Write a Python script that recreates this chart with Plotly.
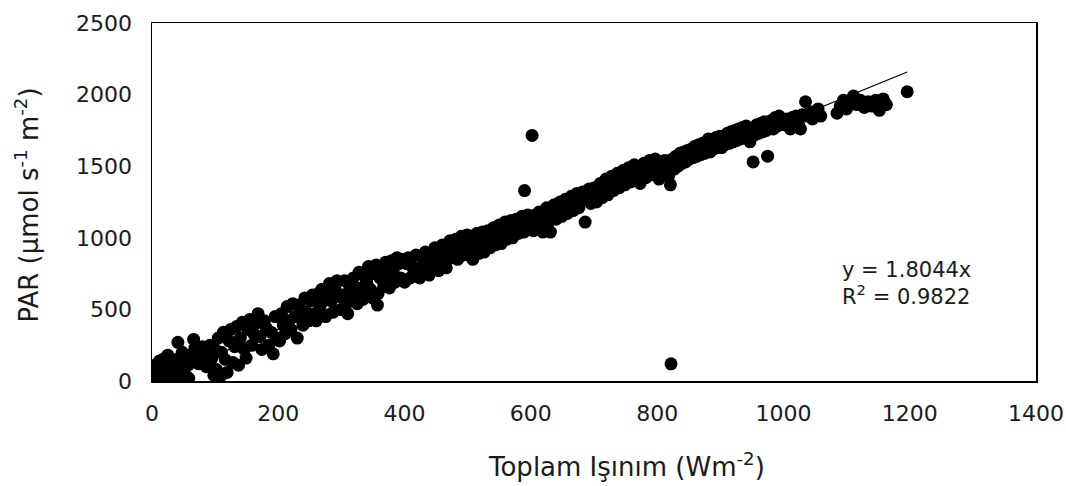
import plotly.graph_objects as go

# Total radiation (W m-2) and PAR, in segments
irr_0 = [2, 4, 5, 7, 8, 10, 12, 14, 15, 17, 19, 20, 22, 24, 25, 26, 28, 30, 32, 34, 36, 38, 41, 43, 45, 47, 48, 50, 52, 55, 57, 58, 60, 63, 66, 68, 71, 74, 77, 80, 83, 86, 89, 92, 95, 98, 100]
par_0 = [10, 40, 80, 20, 120, 60, 140, 30, 100, 150, 70, 10, 120, 40, 180, 90, 140, 20, 60, 110, 30, 150, 270, 80, 20, 130, 200, 60, 160, 30, 110, 20, 180, 140, 290, 230, 200, 120, 180, 240, 150, 100, 200, 250, 160, 40, 220]

irr_1 = [102, 105, 108, 110, 113, 116, 119, 122, 125, 128, 131, 134, 137, 140, 143, 146, 149, 152, 155, 158, 161, 164, 168, 171, 174, 178, 181, 185, 189, 192, 195, 198]
par_1 = [80, 300, 30, 200, 340, 150, 60, 280, 360, 130, 240, 380, 110, 300, 410, 220, 160, 360, 430, 250, 330, 400, 470, 310, 220, 420, 370, 250, 340, 190, 450, 300]

irr_2 = [202, 205, 208, 211, 214, 217, 220, 223, 226, 230, 233, 236, 239, 242, 245, 248, 251, 254, 257, 260, 263, 266, 269, 272, 275, 278, 281, 284, 287, 290, 293, 296, 299]
par_2 = [280, 470, 390, 330, 520, 420, 360, 540, 450, 300, 530, 470, 390, 580, 480, 420, 560, 600, 470, 420, 610, 520, 640, 560, 450, 620, 680, 560, 480, 640, 700, 590, 500]

irr_3 = [302, 305, 308, 310, 313, 316, 319, 322, 325, 328, 331, 334, 337, 340, 343, 346, 349, 352, 355, 357, 358, 361, 364, 367, 370, 373, 376, 379, 382, 385, 388, 391, 394, 397]
par_3 = [600, 700, 540, 470, 660, 560, 720, 610, 540, 760, 650, 570, 730, 690, 800, 640, 580, 750, 810, 530, 610, 720, 790, 660, 830, 720, 650, 840, 760, 690, 860, 820, 720, 850]

irr_4 = [400, 403, 406, 409, 412, 415, 418, 421, 424, 427, 430, 433, 436, 439, 442, 445, 448, 451, 454, 457, 460, 463, 466, 469, 472, 475, 478, 481, 484, 487, 490, 493, 496, 499]
par_4 = [690, 820, 860, 720, 800, 760, 880, 790, 720, 870, 810, 900, 780, 740, 880, 830, 930, 820, 770, 900, 950, 840, 790, 920, 980, 860, 900, 990, 850, 950, 1010, 880, 960, 1020]

irr_5 = [502, 505, 508, 511, 514, 517, 520, 523, 526, 529, 532, 535, 538, 541, 544, 547, 550, 553, 556, 559, 562, 565, 568, 571, 574, 577, 580, 583, 586, 589, 592, 595, 598]
par_5 = [880, 990, 850, 950, 1030, 890, 960, 1040, 900, 990, 1050, 930, 1000, 1070, 950, 1020, 1090, 960, 1040, 1110, 990, 1060, 1120, 1000, 1070, 1130, 1030, 1090, 1150, 1040, 1100, 1160, 1060]

irr_6 = [601, 604, 607, 610, 613, 616, 619, 622, 625, 628, 631, 634, 637, 640, 643, 646, 649, 652, 655, 658, 661, 664, 667, 670, 673, 676, 679, 682, 686, 689, 692, 695, 698]
par_6 = [1130, 1050, 1160, 1080, 1180, 1100, 1040, 1150, 1210, 1110, 1040, 1180, 1230, 1130, 1190, 1250, 1150, 1210, 1270, 1170, 1230, 1290, 1190, 1250, 1310, 1210, 1260, 1320, 1110, 1280, 1340, 1240, 1300]

irr_7 = [701, 704, 707, 710, 713, 716, 719, 722, 725, 728, 731, 734, 737, 740, 743, 746, 749, 752, 755, 758, 761, 764, 767, 770, 773, 776, 779, 782, 785, 788, 791, 794, 797]
par_7 = [1350, 1250, 1320, 1380, 1280, 1350, 1410, 1300, 1370, 1430, 1330, 1390, 1450, 1350, 1410, 1470, 1370, 1430, 1490, 1390, 1450, 1510, 1410, 1470, 1380, 1460, 1520, 1420, 1480, 1540, 1440, 1500, 1550]

irr_8 = [800, 803, 806, 809, 812, 815, 818, 821, 824, 827, 830, 833, 836, 839, 842, 845, 848, 851, 854, 857, 860, 863, 866, 869, 872, 875, 878, 881, 884, 887, 890, 893, 896, 899]
par_8 = [1480, 1410, 1520, 1450, 1540, 1470, 1430, 1370, 1550, 1480, 1570, 1500, 1590, 1520, 1600, 1530, 1610, 1550, 1620, 1560, 1640, 1570, 1650, 1580, 1660, 1590, 1670, 1690, 1600, 1680, 1620, 1700, 1630, 1710]

irr_9 = [902, 905, 908, 911, 914, 917, 920, 923, 926, 929, 932, 935, 938, 941, 944, 947, 950, 952, 955, 958, 961, 964, 967, 970, 973, 975, 978, 981, 984, 987, 990, 993, 996, 999]
par_9 = [1630, 1710, 1650, 1730, 1660, 1740, 1670, 1750, 1680, 1760, 1690, 1770, 1700, 1780, 1710, 1670, 1760, 1530, 1720, 1790, 1730, 1800, 1740, 1810, 1750, 1570, 1780, 1820, 1760, 1840, 1780, 1850, 1790, 1830]

irr_10 = [1002, 1005, 1008, 1011, 1014, 1017, 1020, 1024, 1027, 1030, 1035, 1038, 1042, 1046, 1050, 1055, 1059, 1085, 1090, 1095, 1100, 1105, 1111, 1116, 1122, 1128, 1134, 1140, 1146, 1152, 1158, 1163, 1196]
par_10 = [1790, 1830, 1800, 1760, 1840, 1810, 1850, 1790, 1760, 1860, 1950, 1850, 1880, 1830, 1870, 1900, 1850, 1870, 1920, 1960, 1900, 1940, 1990, 1930, 1960, 1910, 1950, 1920, 1960, 1890, 1970, 1930, 2020]

irr_out = [590, 602, 822]
par_out = [1330, 1715, 120]

slope = 1.8044
r2 = 0.9822

x_ticks = [0, 200, 400, 600, 800, 1000, 1200, 1400]
y_ticks = [0, 500, 1000, 1500, 2000, 2500]

x_title = "Toplam Işınım (Wm<sup>-2</sup>)"
y_title = "PAR (µmol s<sup>-1</sup> m<sup>-2</sup>)"

irr = (irr_0 + irr_1 + irr_2 + irr_3 + irr_4 + irr_5 + irr_6 + irr_7 + irr_8
       + irr_9 + irr_10 + irr_out)
par = (par_0 + par_1 + par_2 + par_3 + par_4 + par_5 + par_6 + par_7 + par_8
       + par_9 + par_10 + par_out)

font_family = "DejaVu Sans, Verdana, sans-serif"
text_color = "#1a1a1a"

fig = go.Figure()
fig.add_trace(go.Scatter(
    x=irr, y=par, mode="markers",
    marker=dict(color="black", size=13, line=dict(width=0)),
    showlegend=False, hoverinfo="skip"))

line_x = [0, max(irr)]
line_y = [slope * v for v in line_x]
fig.add_trace(go.Scatter(
    x=line_x, y=line_y, mode="lines",
    line=dict(color="black", width=1.2),
    showlegend=False, hoverinfo="skip"))

fig.add_annotation(
    x=1090, y=680, xref="x", yref="y",
    text=f"y = {slope:.4f}x<br>R<sup>2</sup> = {r2:.4f}",
    showarrow=False, xanchor="left", yanchor="middle", align="left",
    font=dict(family=font_family, size=21, color=text_color))

# axis titles as annotations to match their offset placement
fig.add_annotation(
    x=0.537, y=0, xref="paper", yref="paper", yshift=-84,
    text=x_title, showarrow=False, xanchor="center", yanchor="middle",
    font=dict(family=font_family, size=26, color=text_color))
fig.add_annotation(
    x=0, y=0.49, xref="paper", yref="paper", xshift=-125,
    text=y_title, textangle=-90, showarrow=False,
    xanchor="center", yanchor="middle",
    font=dict(family=font_family, size=26, color=text_color))

fig.update_layout(
    width=1066, height=486,
    margin=dict(l=152, r=30, t=23, b=105),
    paper_bgcolor="white", plot_bgcolor="white",
    font=dict(family=font_family, size=22, color=text_color),
)
fig.update_xaxes(
    range=[0, 1400], tickvals=x_ticks, ticktext=[str(v) for v in x_ticks],
    showgrid=False, zeroline=False, showline=True, mirror=True,
    linecolor="black", linewidth=1.5, ticks="", ticklabelstandoff=12,
    automargin=False)
fig.update_yaxes(
    range=[0, 2500], tickvals=y_ticks, ticktext=[str(v) for v in y_ticks],
    showgrid=False, zeroline=False, showline=True, mirror=True,
    linecolor="black", linewidth=1.5, ticks="", ticklabelstandoff=14,
    automargin=False)

fig.write_html(
    "out.html",
    config={"displayModeBar": False, "staticPlot": True},
    post_script="document.body.style.margin='0';document.body.style.overflow='hidden';")
